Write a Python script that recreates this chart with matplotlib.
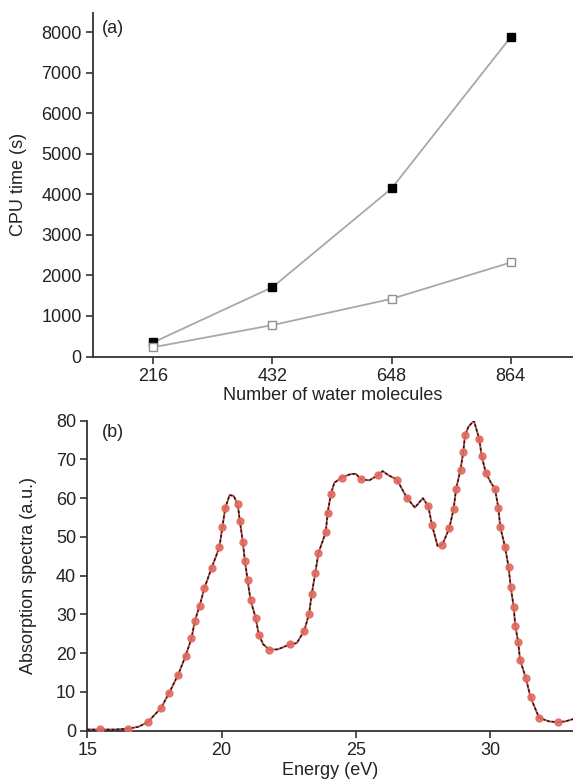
import matplotlib.pyplot as plt

plt.rcParams['font.family'] = ['Liberation Sans', 'DejaVu Sans']

# panel (a): CPU time vs number of water molecules
n_water = [216, 432, 648, 864]
cpu_filled = [350, 1710, 4144, 7877]
cpu_open = [230, 775, 1422, 2319]

# panel (b): absorption spectrum, curve vertices
line_e = [15.0, 15.5, 16.0, 16.5, 16.9, 17.25, 17.75, 18.05, 18.38, 18.66,
          18.88, 19.0, 19.18, 19.36, 19.63, 19.92, 20.03, 20.14, 20.3, 20.45,
          20.6, 20.68, 20.79, 20.87, 20.97, 21.08, 21.27, 21.39, 21.55, 21.78,
          22.1, 22.55, 22.8, 23.08, 23.26, 23.36, 23.49, 23.61, 23.88, 23.95,
          24.07, 24.2, 24.47, 24.8, 25.0, 25.19, 25.5, 25.82, 26.0, 26.2,
          26.53, 26.91, 27.2, 27.5, 27.7, 27.84, 28.05, 28.22, 28.48, 28.64,
          28.74, 28.9, 29.0, 29.07, 29.2, 29.4, 29.6, 29.69, 29.85, 30.05,
          30.18, 30.31, 30.38, 30.56, 30.69, 30.77, 30.88, 30.94, 31.05, 31.12,
          31.33, 31.51, 31.83, 32.2, 32.53, 32.8, 33.1]
line_a = [0.3, 0.3, 0.3, 0.5, 1.0, 2.2, 5.9, 9.8, 14.4, 19.3,
          23.8, 28.2, 32.2, 36.8, 42.0, 47.4, 52.5, 57.6, 60.8, 60.6,
          58.5, 54.2, 48.8, 43.8, 38.8, 33.7, 29.1, 24.7, 22.3, 20.9,
          21.0, 22.3, 22.6, 25.8, 30.2, 35.3, 40.7, 45.9, 51.2, 56.2,
          61.0, 64.0, 65.3, 66.2, 66.3, 64.9, 64.6, 65.9, 67.0, 66.0,
          64.8, 60.0, 57.6, 60.0, 57.9, 53.0, 47.6, 48.0, 52.2, 57.1,
          62.5, 67.4, 71.8, 76.3, 78.5, 80.0, 75.2, 70.8, 66.4, 63.8,
          62.5, 57.5, 52.6, 47.4, 42.2, 37.1, 32.0, 27.1, 22.8, 18.2,
          13.7, 8.6, 3.3, 2.4, 2.2, 2.4, 3.0]

# panel (b): sampled points
dot_e = [15.48, 16.53, 17.25, 17.75, 18.05, 18.38, 18.66, 18.88, 19.0, 19.18,
         19.36, 19.63, 19.92, 20.03, 20.14, 20.6, 20.68, 20.79, 20.87, 20.97,
         21.08, 21.27, 21.39, 21.78, 22.55, 23.08, 23.26, 23.36, 23.49, 23.61,
         23.88, 23.95, 24.07, 24.47, 25.19, 25.82, 26.53, 26.91, 27.7, 27.84,
         28.22, 28.48, 28.64, 28.74, 28.9, 29.0, 29.07, 29.6, 29.69, 29.85,
         30.18, 30.31, 30.38, 30.56, 30.69, 30.77, 30.88, 30.94, 31.05, 31.12,
         31.33, 31.51, 31.83, 32.53]
dot_a = [0.5, 0.5, 2.2, 5.9, 9.8, 14.4, 19.3, 23.8, 28.2, 32.2,
         36.8, 42.0, 47.4, 52.5, 57.6, 58.5, 54.2, 48.8, 43.8, 38.8,
         33.7, 29.1, 24.7, 20.9, 22.3, 25.8, 30.2, 35.3, 40.7, 45.9,
         51.2, 56.2, 61.0, 65.3, 64.9, 65.9, 64.8, 60.0, 57.9, 53.0,
         48.0, 52.2, 57.1, 62.5, 67.4, 71.8, 76.3, 75.2, 70.8, 66.4,
         62.5, 57.5, 52.6, 47.4, 42.2, 37.1, 32.0, 27.1, 22.8, 18.2,
         13.7, 8.6, 3.3, 2.2]

fs = 13

fig = plt.figure(figsize=(5.73, 7.82), dpi=100)
ax1 = fig.add_axes([0.1618, 0.5441, 0.8382, 0.4397])
ax2 = fig.add_axes([0.1524, 0.0656, 0.8476, 0.3964])

for ax in (ax1, ax2):
    for s in ('top', 'right'):
        ax.spines[s].set_visible(False)
    for s in ('left', 'bottom'):
        ax.spines[s].set_linewidth(1.3)
        ax.spines[s].set_color('#333333')
    ax.tick_params(direction='out', length=5, width=1.2, color='#333333',
                   labelsize=fs, labelcolor='#222222', pad=3)

# (a)
ax1.plot(n_water, cpu_filled, color='#a8a8a8', lw=1.3, marker='s', ms=6,
         mfc='black', mec='black', zorder=3)
ax1.plot(n_water, cpu_open, color='#a8a8a8', lw=1.3, marker='s', ms=6,
         mfc='white', mec='#909090', mew=1.0, zorder=3)
ax1.set_xlim(106, 977)
ax1.set_ylim(0, 8480)
ax1.set_xticks(n_water)
ax1.set_yticks(range(0, 8001, 1000))
ax1.set_xlabel('Number of water molecules', fontsize=fs, color='#222222', labelpad=2)
ax1.set_ylabel('CPU time (s)', fontsize=fs, color='#222222')
ax1.yaxis.set_label_coords(-0.136, 0.5)
ax1.text(0.019, 0.955, '(a)', transform=ax1.transAxes, fontsize=fs,
         color='#222222', va='center', ha='left')

# (b)
ax2.plot(line_e, line_a, color='#c0504d', lw=1.4, zorder=2)
ax2.plot(line_e, line_a, color='#111111', lw=1.0, ls=(0, (2, 1.5)), zorder=3)
ax2.plot(dot_e, dot_a, ls='none', marker='o', ms=5, mfc='#e26a60',
         mec='#e26a60', alpha=0.9, zorder=4)
ax2.set_xlim(15, 33.09)
ax2.set_ylim(0, 80)
ax2.set_xticks([15, 20, 25, 30])
ax2.set_yticks(range(0, 81, 10))
ax2.set_xlabel('Energy (eV)', fontsize=fs, color='#222222', labelpad=2)
ax2.set_ylabel('Absorption spectra (a.u.)', fontsize=fs, color='#222222')
ax2.yaxis.set_label_coords(-0.104, 0.5)
ax2.text(0.0296, 0.962, '(b)', transform=ax2.transAxes, fontsize=fs,
         color='#222222', va='center', ha='left')

fig.savefig('out.png', dpi=100)
